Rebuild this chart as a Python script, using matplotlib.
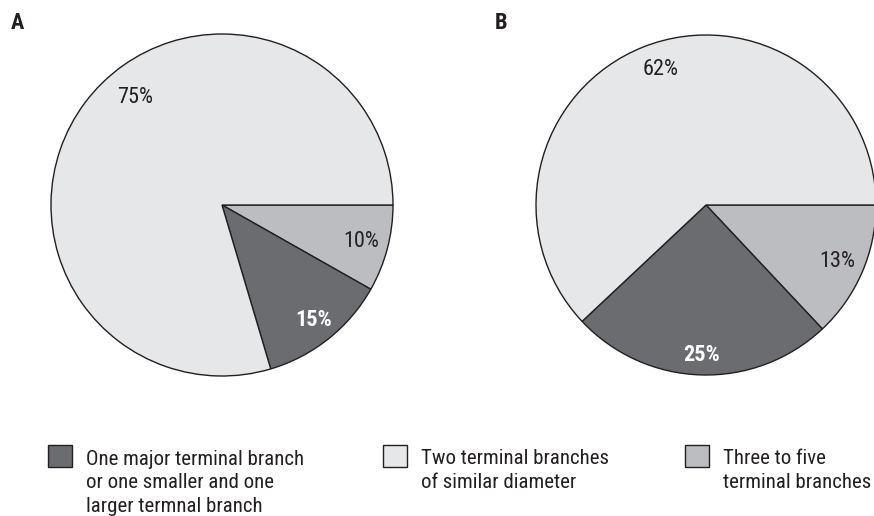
import matplotlib
matplotlib.use("Agg")
import matplotlib.pyplot as plt
from matplotlib import font_manager as fm
from matplotlib.patches import Rectangle
import numpy as np

# ---- data ----
categories = ["Three to five\nterminal branches",
              "One major terminal branch\nor one smaller and one\nlarger termnal branch",
              "Two terminal branches\nof similar diameter"]
# slice sizes as drawn in the reference (panel A is not drawn to scale)
sizes_A = [8.2, 12.2, 79.6]
labels_A = ["10%", "15%", "75%"]
sizes_B = [13, 25, 62]
labels_B = ["13%", "25%", "62%"]
panel_titles = ["A", "B"]
legend_order = [1, 2, 0]

# ---- style ----
colors = ["#bcbdc0", "#6b6c70", "#e6e7e8"]
label_colors = ["#231f20", "white", "#231f20"]
label_weights = ["normal", "bold", "normal"]
edge = "#231f20"

available = {f.name for f in fm.fontManager.ttflist}
family = None
for cand in ["Liberation Sans Narrow", "Roboto Condensed", "Arial Narrow"]:
    if cand in available:
        family = cand
        break
stretch = "normal"
if family is None:
    family = "DejaVu Sans"
    stretch = "condensed"
plt.rcParams["font.family"] = [family, "DejaVu Sans"]
plt.rcParams["font.stretch"] = stretch

W, H = 874, 516
fig = plt.figure(figsize=(W / 100, H / 100), dpi=100)


def pie_axes(cx, cy, r):
    ax = fig.add_axes([(cx - r) / W, 1 - (cy + r) / H, 2 * r / W, 2 * r / H])
    ax.axis("off")
    return ax


def draw_pie(ax, sizes, labels, label_pos):
    wedges, _ = ax.pie(sizes, colors=colors, startangle=0, counterclock=False,
                       radius=1.0,
                       wedgeprops=dict(edgecolor=edge, linewidth=1.0))
    ax.set_xlim(-1, 1)
    ax.set_ylim(-1, 1)
    ax.set_aspect("equal")
    for w, lab, (rr, ang), c, fw in zip(wedges, labels, label_pos,
                                        label_colors, label_weights):
        if ang is None:
            ang = (w.theta1 + w.theta2) / 2
        t = np.deg2rad(ang)
        ax.text(rr * np.cos(t), rr * np.sin(t), lab, ha="center", va="center",
                fontsize=16, color=c, fontweight=fw)


axA = pie_axes(222, 205, 171)
draw_pie(axA, sizes_A, labels_A, [(0.84, None), (0.86, None), (0.81, 128.8)])
axB = pie_axes(706, 205, 170)
draw_pie(axB, sizes_B, labels_B, [(0.84, None), (0.88, None), (0.84, 108.4)])

fig.text(11 / W, 1 - 29 / H, panel_titles[0], fontsize=16, fontweight="bold",
         va="baseline", ha="left", color=edge)
fig.text(495 / W, 1 - 29 / H, panel_titles[1], fontsize=16, fontweight="bold",
         va="baseline", ha="left", color=edge)

# legend
leg_x = [48, 383, 685]
line_px = 24
for x, idx in zip(leg_x, legend_order):
    fig.patches.append(Rectangle((x / W, 1 - 467 / H), 24 / W, 22 / H,
                                 transform=fig.transFigure, facecolor=colors[idx],
                                 edgecolor=edge, linewidth=1.0))
    nlines = categories[idx].count("\n") + 1
    base = 464 + line_px * (nlines - 1)
    fig.text((x + 38) / W, 1 - base / H, categories[idx], fontsize=15,
             va="baseline", ha="left", color=edge, linespacing=1.31)

fig.savefig("out.png", dpi=100)
